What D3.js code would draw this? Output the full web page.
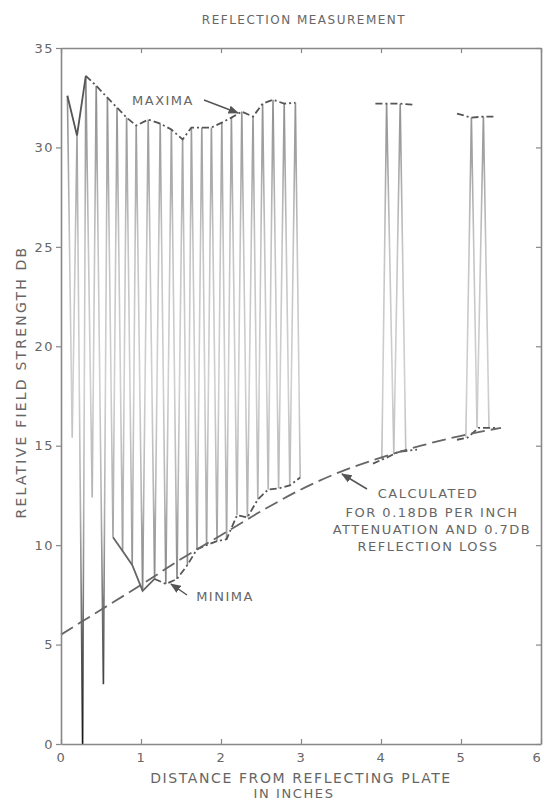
<!DOCTYPE html>
<html>
<head>
<meta charset="utf-8">
<script src="https://cdn.jsdelivr.net/npm/d3@7"></script>
<style>
  body { margin: 0; background: #fff; }
  svg { display: block; }
  text { font-family: "DejaVu Sans", sans-serif; fill: #666; }
</style>
</head>
<body>
<div id="chart"></div>
<script>
// measured maxima / minima of the standing wave, inches and db
const maxX = [0.08, 0.20, 0.31, 0.44, 0.58, 0.70, 0.82, 0.94, 1.09, 1.24, 1.38, 1.52, 1.63, 1.76, 1.88, 2.01, 2.13, 2.26, 2.40, 2.52, 2.65, 2.79, 2.93];
const maxY = [32.6, 30.6, 33.6, 33.1, 32.5, 32.0, 31.5, 31.1, 31.4, 31.2, 30.9, 30.4, 31.0, 31.0, 31.0, 31.25, 31.5, 31.8, 31.55, 32.2, 32.4, 32.2, 32.25];
const minX = [0.14, 0.27, 0.39, 0.53, 0.65, 0.77, 0.89, 1.02, 1.17, 1.31, 1.45, 1.58, 1.70, 1.82, 1.95, 2.07, 2.20, 2.33, 2.46, 2.59, 2.72, 2.86, 2.99];
const minY = [15.4, 0.0, 12.4, 3.0, 10.4, 9.7, 9.0, 7.7, 8.3, 8.05, 8.3, 9.0, 9.8, 10.0, 10.2, 10.3, 11.5, 11.4, 12.3, 12.8, 12.85, 13.0, 13.4];

// the two short runs further out
const aMaxX = [4.07, 4.24], aMaxY = [32.2, 32.2];
const aMinX = [4.01, 4.16, 4.31], aMinY = [14.3, 14.6, 14.7];
const bMaxX = [5.13, 5.28], bMaxY = [31.5, 31.55];
const bMinX = [5.06, 5.20, 5.35], bMinY = [15.4, 15.9, 15.9];

// envelope ends of the short runs
const aEnvMaxX = [3.93, 4.07, 4.24, 4.40], aEnvMaxY = [32.2, 32.2, 32.2, 32.15];
const aEnvMinX = [3.90, 4.07, 4.22, 4.45], aEnvMinY = [14.1, 14.4, 14.7, 14.8];
const bEnvMaxX = [4.95, 5.13, 5.28, 5.43], bEnvMaxY = [31.7, 31.5, 31.55, 31.55];
const bEnvMinX = [4.95, 5.08, 5.22, 5.45], bEnvMinY = [15.3, 15.4, 15.9, 15.9];

// calculated curve
const calcX = [0, 0.5, 1, 1.5, 2, 2.5, 3, 3.5, 4, 4.5, 5, 5.5];
const calcY = [5.5, 6.75, 8.0, 9.3, 10.5, 11.7, 12.8, 13.7, 14.4, 15.0, 15.5, 15.9];

const xTicks = [0, 1, 2, 3, 4, 5, 6];
const yTicks = [0, 5, 10, 15, 20, 25, 30, 35];

const w = 543, h = 801;
const svg = d3.select("#chart").append("svg")
  .attr("width", w).attr("height", h);

const x = d3.scaleLinear().domain([0, 6]).range([61, 541]);
const y = d3.scaleLinear().domain([0, 35]).range([744, 48]);

// gray photo-like shading of the trace
const grad = svg.append("defs").append("linearGradient")
  .attr("id", "trace").attr("gradientUnits", "userSpaceOnUse")
  .attr("x1", 0).attr("x2", 0).attr("y1", y(35)).attr("y2", y(0));
[[35, "#7a7a7a"], [30, "#a0a0a0"], [25, "#c4c4c4"], [18, "#d0d0d0"], [12, "#b0b0b0"], [6, "#6a6a6a"], [0, "#111"]]
  .forEach(([v, c]) => grad.append("stop")
    .attr("offset", (y(v) - y(35)) / (y(0) - y(35))).attr("stop-color", c));

const line = d3.line().x(d => x(d[0])).y(d => y(d[1]));
const pts = (xs, ys) => xs.map((v, i) => [v, ys[i]]);

function zig(mx, my, nx, ny, minFirst) {
  const out = [];
  const n = Math.max(mx.length, nx.length);
  for (let i = 0; i < n; i++) {
    if (minFirst) {
      if (i < nx.length) out.push([nx[i], ny[i]]);
      if (i < mx.length) out.push([mx[i], my[i]]);
    } else {
      if (i < mx.length) out.push([mx[i], my[i]]);
      if (i < nx.length) out.push([nx[i], ny[i]]);
    }
  }
  return out;
}

const traces = [
  zig(maxX, maxY, minX, minY, false),
  zig(aMaxX, aMaxY, aMinX, aMinY, true),
  zig(bMaxX, bMaxY, bMinX, bMinY, true)
];

svg.append("g").selectAll("path").data(traces).join("path")
  .attr("d", line)
  .attr("fill", "none")
  .attr("stroke", "url(#trace)")
  .attr("stroke-width", 1.6)
  .attr("stroke-linejoin", "miter");

// envelopes
const dashDot = "7,3,2,3";
const maxPts = pts(maxX, maxY), minPts = pts(minX, minY);
const env = svg.append("g").attr("fill", "none").attr("stroke", "#555").attr("stroke-width", 1.8);
env.append("path").attr("d", line(maxPts.slice(0, 3)));
env.append("path").attr("d", line(maxPts.slice(2))).attr("stroke-dasharray", dashDot);
env.append("path").attr("d", line(minPts.slice(4, 9))).attr("stroke", "#666");
env.append("path").attr("d", line(minPts.slice(8))).attr("stroke-dasharray", dashDot);
[[aEnvMaxX, aEnvMaxY], [aEnvMinX, aEnvMinY], [bEnvMaxX, bEnvMaxY], [bEnvMinX, bEnvMinY]]
  .forEach(([xs, ys]) => env.append("path").attr("d", line(pts(xs, ys))).attr("stroke-dasharray", dashDot));

// calculated
svg.append("path")
  .attr("d", d3.line().curve(d3.curveMonotoneX).x(d => x(d[0])).y(d => y(d[1]))(pts(calcX, calcY)))
  .attr("fill", "none").attr("stroke", "#666").attr("stroke-width", 1.8)
  .attr("stroke-dasharray", "14,6");

// axes / frame
function styleAxis(g) {
  g.selectAll(".domain").attr("stroke", "#888").attr("stroke-width", 1.6);
  g.selectAll(".tick line").attr("stroke", "#888").attr("stroke-width", 1.2);
  g.selectAll(".tick text").style("font-size", "13px").attr("fill", "#666")
    .attr("font-family", "DejaVu Sans").attr("letter-spacing", "1.5px");
}
svg.append("g").attr("transform", `translate(0,${y(0)})`)
  .call(d3.axisBottom(x).tickValues(xTicks).tickSize(-5).tickSizeOuter(0).tickPadding(9).tickFormat(d3.format("d")))
  .call(styleAxis)
  .selectAll(".tick text").filter(d => d === 6).attr("dx", -4);
svg.append("g").attr("transform", `translate(${x(0)},0)`)
  .call(d3.axisLeft(y).tickValues(yTicks).tickSize(5).tickSizeOuter(0).tickPadding(2))
  .call(styleAxis);
svg.append("g").attr("transform", `translate(0,${y(35)})`)
  .call(d3.axisTop(x).tickValues(xTicks).tickSize(-5).tickSizeOuter(0).tickFormat(""))
  .call(styleAxis);
svg.append("g").attr("transform", `translate(${x(6)},0)`)
  .call(d3.axisRight(y).tickValues(yTicks).tickSize(-5).tickSizeOuter(0).tickFormat(""))
  .call(styleAxis);

// titles
svg.append("text").attr("x", 304).attr("y", 24).attr("text-anchor", "middle")
  .style("font-size", "12px").attr("letter-spacing", "1.5px").text("REFLECTION MEASUREMENT");
svg.append("text").attr("transform", "translate(26,382) rotate(-90)").attr("text-anchor", "middle")
  .style("font-size", "14px").attr("letter-spacing", "2.2px").text("RELATIVE FIELD STRENGTH DB");
svg.append("text").attr("x", 301).attr("y", 783).attr("text-anchor", "middle")
  .style("font-size", "14px").attr("letter-spacing", "1.6px").text("DISTANCE FROM REFLECTING PLATE");
svg.append("text").attr("x", 294).attr("y", 798).attr("text-anchor", "middle")
  .style("font-size", "13px").attr("letter-spacing", "1.6px").text("IN INCHES");

// annotations
svg.append("defs").append("marker").attr("id", "arr")
  .attr("viewBox", "0 0 10 10").attr("refX", 9).attr("refY", 5)
  .attr("markerWidth", 7).attr("markerHeight", 7).attr("orient", "auto")
  .append("path").attr("d", "M0,1L10,5L0,9Z").attr("fill", "#555");

const note = (tx, ty, txt) => svg.append("text").attr("x", tx).attr("y", ty)
  .attr("text-anchor", "middle").style("font-size", "13px").attr("letter-spacing", "1.5px").text(txt);
const arrow = (x1, y1, x2, y2) => svg.append("line").attr("x1", x1).attr("y1", y1).attr("x2", x2).attr("y2", y2)
  .attr("stroke", "#555").attr("stroke-width", 1.5).attr("marker-end", "url(#arr)");

note(163, 105, "MAXIMA");
arrow(204, 100, 238, 113);
note(225, 601, "MINIMA");
arrow(187, 595, 171, 584);
note(428, 498, "CALCULATED");
note(432, 517, "FOR 0.18DB PER INCH");
note(432, 534, "ATTENUATION AND 0.7DB");
note(428, 551, "REFLECTION LOSS");
arrow(367, 489, 342, 474);
</script>
</body>
</html>
